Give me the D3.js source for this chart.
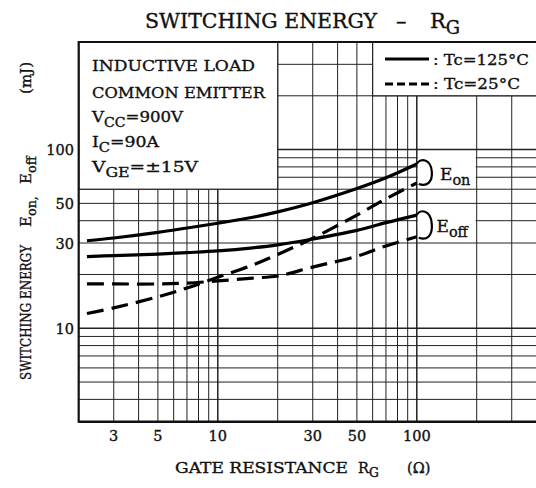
<!DOCTYPE html>
<html>
<head>
<meta charset="utf-8">
<script src="https://cdn.jsdelivr.net/npm/d3@7"></script>
<style>
  body { margin: 0; background: #fff; }
  text { font-family: "DejaVu Serif", serif; fill: #111; stroke: #111; stroke-width: 0.35px; }
</style>
</head>
<body>
<script>
// valeurs (Rg en ohm, énergie en mJ)
const rg = [2.2, 3, 5, 7, 10, 15, 20, 30, 50, 70, 100];
const eon125 = [30.9, 32.0, 34.4, 36.4, 38.7, 41.8, 44.8, 50.4, 60.5, 69.5, 83];
const eoff125 = [25.2, 25.5, 26, 26.5, 27.1, 28.2, 29.3, 31.6, 35.3, 39, 43];
const eon25 = [12.1, 13.0, 15.0, 16.8, 19.3, 22.6, 25.9, 31.9, 43, 53, 65];
const eoff25 = [17.7, 17.7, 17.7, 17.9, 18.4, 19.1, 19.6, 22.0, 25.3, 28.9, 32.5];

const xTicks = [3, 5, 10, 30, 50, 100];
const yTicks = [10, 30, 50, 100];
const xGrid = [3, 4, 5, 6, 7, 8, 9, 10, 20, 30, 40, 50, 60, 70, 80, 90, 100, 200, 300];
const yGrid = [4, 5, 6, 7, 8, 9, 10, 20, 30, 40, 50, 60, 70, 80, 90, 100, 200, 300];

const W = 536, H = 488;
const svg = d3.select("body").append("svg").attr("width", W).attr("height", H);

const x = d3.scaleLog().domain([2, 400]).range([78.7, 536.6]);
const y = d3.scaleLog().domain([3, 400]).range([421.7, 42]);

// grille
const grid = svg.append("g");
grid.selectAll(".vx").data(xGrid).enter().append("line")
  .attr("x1", d => x(d)).attr("x2", d => x(d))
  .attr("y1", y(3)).attr("y2", y(400))
  .attr("stroke", "#222")
  .attr("stroke-width", d => (d === 10 || d === 100) ? 1.5 : 1);
grid.selectAll(".hy").data(yGrid).enter().append("line")
  .attr("x1", x(2)).attr("x2", x(400))
  .attr("y1", d => y(d)).attr("y2", d => y(d))
  .attr("stroke", "#222")
  .attr("stroke-width", d => (d === 10 || d === 100) ? 1.5 : 1);

// cadres blancs (conditions + légende)
svg.append("rect")
  .attr("x", x(2)).attr("y", y(400))
  .attr("width", x(20) - x(2)).attr("height", y(60) - y(400))
  .attr("fill", "#fff").attr("stroke", "#222").attr("stroke-width", 1.2);
svg.append("rect")
  .attr("x", x(60)).attr("y", y(400))
  .attr("width", x(400) - x(60)).attr("height", y(200) - y(400))
  .attr("fill", "#fff").attr("stroke", "#222").attr("stroke-width", 1.2);
// fonds des étiquettes Eon / Eoff
svg.append("rect")
  .attr("x", x(100) + 1).attr("y", y(93))
  .attr("width", x(200) - x(100) - 2).attr("height", y(66) - y(93))
  .attr("fill", "#fff");
svg.append("rect")
  .attr("x", x(100) + 1).attr("y", y(45))
  .attr("width", x(200) - x(100) - 2).attr("height", y(36) - y(45))
  .attr("fill", "#fff");

// bords
svg.append("line").attr("x1", x(2)).attr("x2", x(2)).attr("y1", y(400) - 1).attr("y2", y(3) + 1)
  .attr("stroke", "#111").attr("stroke-width", 2.2);
svg.append("line").attr("x1", x(2)).attr("x2", W).attr("y1", y(3)).attr("y2", y(3))
  .attr("stroke", "#111").attr("stroke-width", 2.5);
svg.append("line").attr("x1", x(2)).attr("x2", W).attr("y1", y(400)).attr("y2", y(400))
  .attr("stroke", "#111").attr("stroke-width", 2);

// courbes
const line = d3.line().x(d => x(d[0])).y(d => y(d[1])).curve(d3.curveCatmullRom.alpha(0.5));
const series = [
  { v: eon125, dash: null },
  { v: eoff125, dash: null },
  { v: eon25, dash: "17,8" },
  { v: eoff25, dash: "17,8" }
];
svg.selectAll(".curve").data(series).enter().append("path")
  .attr("d", s => line(rg.map((r, i) => [r, s.v[i]])))
  .attr("fill", "none").attr("stroke", "#000").attr("stroke-width", 3.2)
  .attr("stroke-dasharray", s => s.dash);

// accolades
function bracket(top, bot) {
  const x0 = x(100), ys = y(top), yd = y(bot), ym = (ys + yd) / 2;
  return `M${x0},${ys} C${x0 + 3},${ys - 6} ${x0 + 14},${ys - 6} ${x0 + 15},${ym - 2}`
    + ` C${x0 + 16},${yd - 1} ${x0 + 10},${yd + 4} ${x0 + 2},${yd + 1}`;
}
svg.append("path").attr("d", bracket(eon125[10], eon25[10]))
  .attr("fill", "none").attr("stroke", "#000").attr("stroke-width", 2.2);
svg.append("path").attr("d", bracket(eoff125[10], eoff25[10]))
  .attr("fill", "none").attr("stroke", "#000").attr("stroke-width", 2.2);

function sub(t, main, s, size) {
  t.append("tspan").text(main);
  t.append("tspan").attr("dy", size * 0.3).attr("font-size", size * 0.85).text(s);
  return t;
}
const eonLbl = svg.append("text").attr("x", 440).attr("y", 179.5).attr("font-size", 17);
sub(eonLbl, "E", "on", 17);
const eoffLbl = svg.append("text").attr("x", 436.5).attr("y", 231.7).attr("font-size", 17);
sub(eoffLbl, "E", "off", 17);

// titre
svg.append("text").attr("x", 145).attr("y", 28).attr("font-size", 21)
  .attr("textLength", 232).attr("lengthAdjust", "spacingAndGlyphs").text("SWITCHING ENERGY");
svg.append("text").attr("x", 396).attr("y", 28).attr("font-size", 21).text("–");
const tR = svg.append("text").attr("x", 430).attr("y", 28).attr("font-size", 21);
sub(tR, "R", "G", 21);

// conditions
const box = svg.append("g").attr("font-size", 15.5);
box.append("text").attr("x", 92).attr("y", 71).attr("textLength", 163)
  .attr("lengthAdjust", "spacingAndGlyphs").text("INDUCTIVE LOAD");
box.append("text").attr("x", 92).attr("y", 98).attr("textLength", 173)
  .attr("lengthAdjust", "spacingAndGlyphs").text("COMMON EMITTER");
const l3 = box.append("text").attr("x", 92).attr("y", 122).attr("textLength", 91)
  .attr("lengthAdjust", "spacingAndGlyphs");
sub(l3, "V", "CC", 15.5); l3.append("tspan").attr("dy", -15.5 * 0.3).text("=900V");
const l4 = box.append("text").attr("x", 92).attr("y", 147).attr("textLength", 67)
  .attr("lengthAdjust", "spacingAndGlyphs");
sub(l4, "I", "C", 15.5); l4.append("tspan").attr("dy", -15.5 * 0.3).text("=90A");
const l5 = box.append("text").attr("x", 92).attr("y", 172).attr("textLength", 106)
  .attr("lengthAdjust", "spacingAndGlyphs");
sub(l5, "V", "GE", 15.5); l5.append("tspan").attr("dy", -15.5 * 0.3).text("=±15V");

// légende
svg.append("line").attr("x1", 385).attr("x2", 429).attr("y1", 59).attr("y2", 59)
  .attr("stroke", "#000").attr("stroke-width", 3);
svg.append("line").attr("x1", 385).attr("x2", 429).attr("y1", 84).attr("y2", 84)
  .attr("stroke", "#000").attr("stroke-width", 3).attr("stroke-dasharray", "8,4");
svg.append("text").attr("x", 433).attr("y", 64.5).attr("font-size", 15.5)
  .attr("textLength", 96).attr("lengthAdjust", "spacingAndGlyphs").text(": Tc=125°C");
svg.append("text").attr("x", 433).attr("y", 89).attr("font-size", 15.5)
  .attr("textLength", 87).attr("lengthAdjust", "spacingAndGlyphs").text(": Tc=25°C");

// graduations
svg.selectAll(".xt").data(xTicks).enter().append("text")
  .attr("x", d => x(d)).attr("y", 441).attr("font-size", 14.5)
  .attr("text-anchor", "middle").text(d => d);
svg.selectAll(".yt").data(yTicks).enter().append("text")
  .attr("x", 74).attr("y", d => y(d) + 5.5).attr("font-size", 14.5)
  .attr("text-anchor", "end").text(d => d);

// titres des axes
svg.append("text").attr("x", 175).attr("y", 473).attr("font-size", 14.5)
  .attr("textLength", 173).attr("lengthAdjust", "spacingAndGlyphs").text("GATE RESISTANCE");
const xr = svg.append("text").attr("x", 358).attr("y", 473).attr("font-size", 14.5);
sub(xr, "R", "G", 14.5);
svg.append("text").attr("x", 407).attr("y", 473).attr("font-size", 14.5).text("(Ω)");

const yl = svg.append("g").attr("transform", "translate(31,0) rotate(-90)").attr("font-size", 15);
yl.append("text").attr("x", -380).attr("y", 0).attr("textLength", 135)
  .attr("lengthAdjust", "spacingAndGlyphs").text("SWITCHING ENERGY");
const ye1 = yl.append("text").attr("x", -227).attr("y", 0);
sub(ye1, "E", "on,", 15);
const ye2 = yl.append("text").attr("x", -184).attr("y", 0);
sub(ye2, "E", "off", 15);
yl.append("text").attr("x", -62).attr("y", 0).attr("text-anchor", "end").text("(mJ)");
</script>
</body>
</html>
